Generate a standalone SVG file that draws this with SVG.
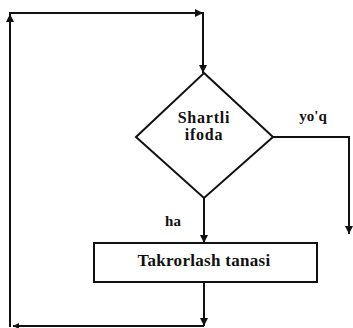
<svg xmlns="http://www.w3.org/2000/svg" width="353" height="328" viewBox="0 0 353 328">
  <style>
    .shape { fill: #fff; stroke: #111; stroke-width: 2; }
    .wire { fill: none; stroke: #111; stroke-width: 2; }
    text { font-family: 'Liberation Serif', 'DejaVu Serif', serif; font-weight: bold; fill: #111; text-anchor: middle; }
  </style>
  <defs>
    <marker id="arrow" viewBox="0 0 8 8" refX="8" refY="4" markerWidth="8" markerHeight="8" markerUnits="userSpaceOnUse" orient="auto">
      <path d="M0,0 L8,4 L0,8 z" fill="#111"/>
    </marker>
    <marker id="arrow-sm" viewBox="0 0 8 8" refX="8" refY="4" markerWidth="6" markerHeight="6" markerUnits="userSpaceOnUse" orient="auto">
      <path d="M0,0 L8,4 L0,8 z" fill="#111"/>
    </marker>
  </defs>

  <g id="connectors">
    <!-- loop back: body -> bottom -> left -> top -> condition -->
    <line class="wire" x1="204" y1="282" x2="204" y2="326" marker-end="url(#arrow)"/>
    <line class="wire" x1="204" y1="326" x2="13" y2="326" marker-end="url(#arrow-sm)"/>
    <line class="wire" x1="10" y1="327" x2="10" y2="14" marker-end="url(#arrow)"/>
    <line class="wire" x1="9" y1="13" x2="203" y2="13" marker-end="url(#arrow)"/>
    <line class="wire" x1="203" y1="12" x2="203" y2="73" marker-end="url(#arrow)"/>
    <!-- false branch (exit) -->
    <polyline class="wire" points="273,137 349,137 349,234" marker-end="url(#arrow)"/>
    <!-- true branch into body -->
    <line class="wire" x1="204" y1="198" x2="204" y2="243" marker-end="url(#arrow)"/>
  </g>

  <g id="condition">
    <polygon class="shape" points="204,73 273,137 204,198 136,137"/>
    <text x="204" y="123" font-size="16" letter-spacing="0.8">Shartli</text>
    <text x="204" y="140" font-size="16" letter-spacing="0.8">ifoda</text>
  </g>

  <g id="label-no">
    <text x="313" y="121" font-size="15">yo'q</text>
  </g>

  <g id="label-yes">
    <text x="173" y="226" font-size="15">ha</text>
  </g>

  <g id="body">
    <rect class="shape" x="94" y="243" width="223" height="39"/>
    <text x="204" y="266" font-size="17" letter-spacing="0.3">Takrorlash tanasi</text>
  </g>
</svg>
